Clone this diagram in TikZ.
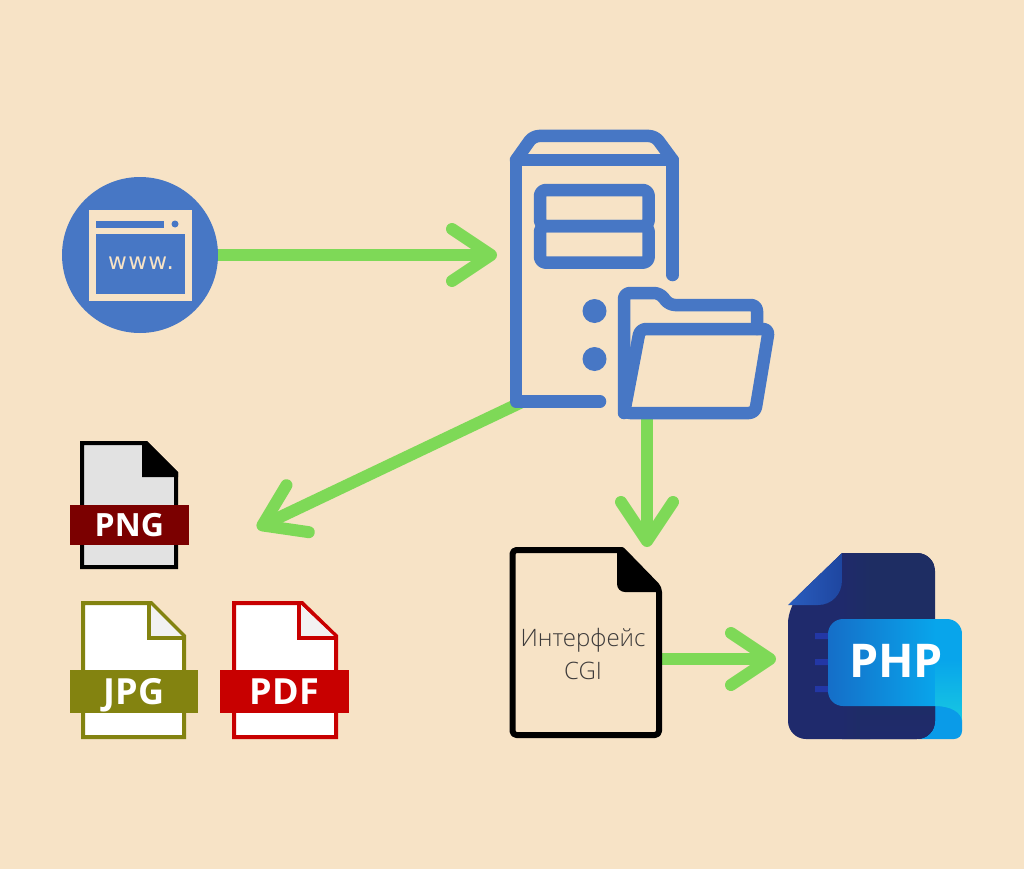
\documentclass[tikz,border=0pt]{standalone}
\usepackage{fontspec}
\setmainfont{Open Sans}
\newfontfamily\lightfont{Open Sans Light}
\newfontfamily\wwwfont[LetterSpace=6]{DejaVu Sans}
\usetikzlibrary{arrows.meta,calc}
\definecolor{bg}{HTML}{F7E3C6}
\definecolor{srv}{HTML}{4777C5}
\definecolor{grn}{HTML}{7ED957}
\definecolor{pngred}{HTML}{7B0000}
\definecolor{pnggrey}{HTML}{E2E2E2}
\definecolor{jpgol}{HTML}{838310}
\definecolor{pdfred}{HTML}{C80000}
\definecolor{cgitext}{HTML}{3C3A3A}
\definecolor{phpnavy}{HTML}{1E2D63}
\definecolor{phpnavyb}{HTML}{1F2A6C}
\definecolor{phpfolda}{HTML}{2A5DBE}
\definecolor{phpfoldb}{HTML}{1E46A0}
\definecolor{phpbar}{HTML}{2337A5}
\definecolor{phpcyan}{HTML}{18C8E1}
\definecolor{phpcurl}{HTML}{0A9BE8}
\definecolor{phplaba}{HTML}{156EC8}
\definecolor{phplabb}{HTML}{08A5EB}
\tikzset{
  flow/.style={draw=grn,line width=12pt,-{Straight Barb[length=39pt,width=52pt,round]}},
  srvline/.style={draw=srv,line width=12.5pt,line join=round,line cap=round},
  spot/.style={inner sep=0pt,outer sep=0pt},
  band/.style={inner sep=0pt,outer sep=0pt,text=white,font=\bfseries},
}
\begin{document}
\begin{tikzpicture}[x=1pt,y=-1pt]
\useasboundingbox (0,0) rectangle (1024,869);
\fill[bg] (0,0) rectangle (1024,869);
% anchor nodes
\node[spot,circle,fill=srv,minimum size=156pt] (www) at (140,255) {};
\node[spot,minimum width=169pt,minimum height=278pt] (server) at (594.5,269) {};
\node[spot,minimum width=157pt,minimum height=132pt] (folder) at (696.5,353) {};
\node[spot,minimum width=150pt,minimum height=188pt] (cgi) at (586,643) {};
\node[spot,minimum width=174pt,minimum height=186pt] (php) at (875,646) {};
\coordinate (ptarget) at (257,528);
% connectors
\draw[flow] (www.east) -- ($(server.west)+(-13,-14)$);
\draw[flow] ($(server.south west)+(12,-6)$) -- (ptarget);
\draw[flow] ($(folder.south west)+(29,-4)$) -- ($(cgi.north west)+(136,-2)$);
\draw[flow] ($(cgi.east)+(-1,16)$) -- ($(php.west)+(-12,13)$);
% www icon
\fill[bg] (89,210) rectangle (192,301);
\fill[srv] (96,221) rectangle (164,228);
\fill[srv] (175,224) circle (3.5);
\fill[srv] (95.5,234) rectangle (185,294);
\node[spot,text=bg,font=\wwwfont\fontsize{23}{23}\selectfont] (wwwtxt) at (141,263) {www.};
% server
\draw[srvline] (600,401.5) -- (516,401.5) -- (516,160) -- (672.7,160) -- (672.7,275);
\draw[srvline,rounded corners=6pt] (516,160) -- (533,136) -- (655,136) -- (672.7,160);
\draw[srvline,rounded corners=6pt] (540,190) rectangle (648.7,226);
\draw[srvline,rounded corners=6pt] (540,226) rectangle (648.7,262.7);
\fill[srv] (594.5,311) circle (12) (594.5,359) circle (12);
% folder
\draw[srvline,rounded corners=6pt] (624,413) -- (624,293) -- (660,293) -- (669,305) -- (757,305) -- (757,329);
\draw[srvline,rounded corners=6pt] (624,413) -- (640,329) -- (769,329) -- (755,413) -- cycle;
% PNG
\draw[black,fill=pnggrey,line width=4pt,line join=miter] (146,443) -- (82,443) -- (82,567) -- (176,567) -- (176,473) -- cycle;
\fill[black] (142,441) -- (147,441) -- (178,472) -- (178,477) -- (142,477) -- cycle;
\node[band,fill=pngred,minimum width=119.5pt,minimum height=40pt,text height=23pt,text depth=0pt,font=\bfseries\fontsize{32}{32}\selectfont] (png) at (129.3,525) {PNG};
% JPG
\draw[jpgol,fill=white,line width=4pt] (151,603) -- (83,603) -- (83,737) -- (184,737) -- (184,636) -- cycle;
\draw[jpgol,fill=white!95!black,line width=4pt] (149,603) -- (149,638) -- (184,638);
\node[band,fill=jpgol,minimum width=128.5pt,minimum height=43pt,text height=25pt,text depth=0pt,font=\bfseries\fontsize{36}{36}\selectfont] (jpg) at (133.8,691.5) {JPG};
% PDF
\draw[pdfred,fill=white,line width=4pt] (302,603) -- (234,603) -- (234,737) -- (336,737) -- (336,636) -- cycle;
\draw[pdfred,fill=white!95!black,line width=4pt] (299,603) -- (299,638) -- (336,638);
\node[band,fill=pdfred,minimum width=129pt,minimum height=43pt,text height=25pt,text depth=0pt,font=\bfseries\fontsize{36}{36}\selectfont] (pdf) at (284.5,691.5) {PDF};
% CGI file
\draw[black,line width=6pt,line join=round,rounded corners=4pt] (622,550) -- (512.5,550) -- (512.5,735) -- (659,735) -- (659,588) [sharp corners] -- cycle;
\fill[black] (617,549) [rounded corners=8pt] -- (617,592) [sharp corners] -- (660,592) -- (660,587) -- (623,549) -- cycle;
\node[spot,align=center,text=cgitext,font=\lightfont\fontsize{24}{33}\selectfont] (cgitxt) at (583,654) {Интерфейс\\CGI};
% PHP
\fill[phpcurl,rounded corners=8pt] (918,739) -- (962,739) [rounded corners=14pt] -- (962,706) [sharp corners] -- (918,706) -- cycle;
\fill[phpnavyb] (842,553) [rounded corners=18pt] -- (935,553) -- (935,739) -- (788,739) -- (788,605) [sharp corners] -- cycle;
\begin{scope}
\clip (842,553) [rounded corners=18pt] -- (935,553) -- (935,739) [sharp corners] -- (842,739) -- cycle;
\fill[phpnavy] (855,553) rectangle (935,739);
\shade[left color=phpnavyb,right color=phpnavy] (842,553) rectangle (870,739);
\shade[top color=phpnavy,bottom color=phpnavyb] (860,690) rectangle (935,739);
\end{scope}
\shade[left color=phpfolda,right color=phpfoldb] (842,553) -- (788,605) -- (818,605) .. controls (832,605) and (842,594) .. (842,580) -- cycle;
\fill[phpbar] (815,633) rectangle (830,639) (815,659) rectangle (830,665) (815,686) rectangle (830,692);
\begin{scope}
\clip (828,634) [rounded corners=15pt] -- (828,619) -- (962,619) [sharp corners] -- (962,722) .. controls (962,712) and (950,706) .. (935,706) [rounded corners=15pt] -- (828,706) [sharp corners] -- cycle;
\shade[left color=phplaba,right color=phplabb] (828,619) rectangle (935,722);
\shade[top color=phplabb,bottom color=phpcyan] (935,660) rectangle (962,722);
\fill[phplabb] (935,619) rectangle (962,660);
\end{scope}
\node[spot,text=white,text height=34pt,text depth=0pt,font=\bfseries\fontsize{46.5}{46.5}\selectfont] (phptxt) at (896,660.5) {PHP};
\end{tikzpicture}
\end{document}
